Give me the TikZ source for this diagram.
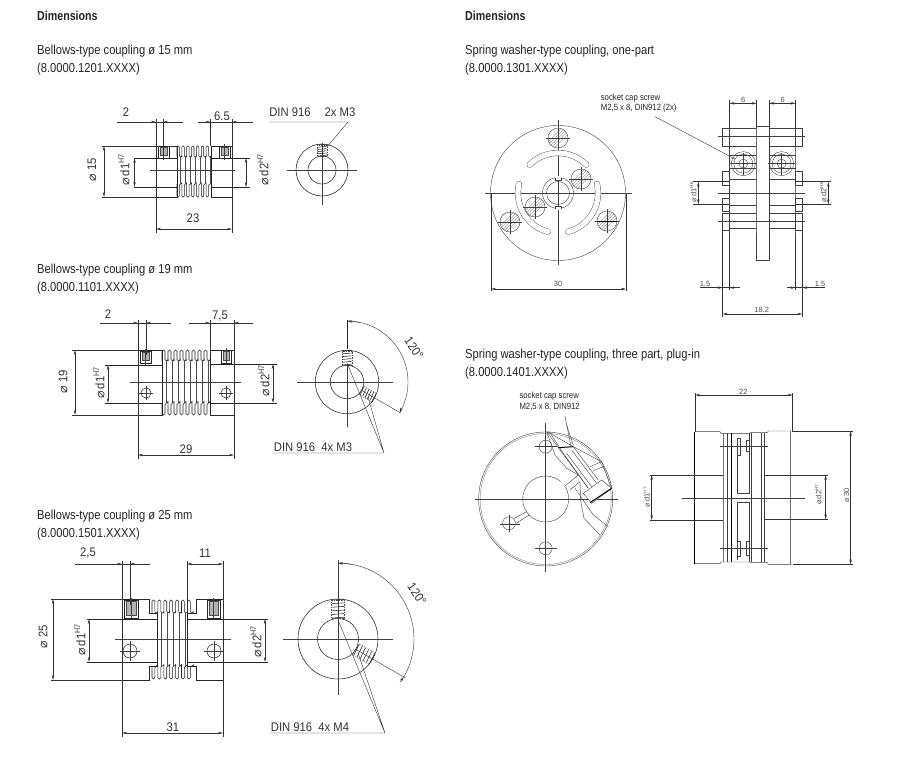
\documentclass[tikz,border=0pt]{standalone}
\usepackage{fontspec}
\setmainfont{Liberation Sans}
\newfontfamily\headf[FakeStretch=0.86]{Liberation Sans}
\newfontfamily\headbf[FakeStretch=0.82]{Liberation Sans}
\newfontfamily\dimf[FakeStretch=0.9]{Liberation Sans}
\newfontfamily\symf{DejaVu Sans}
\usetikzlibrary{arrows.meta,calc}
\tikzset{
  part/.style={line width=.55pt,draw=black!85},
  thin part/.style={line width=.35pt,draw=black!70},
  thick part/.style={line width=1pt,draw=black},
  gray thick/.style={line width=1pt,draw=black!55},
  axisline/.style={line width=.35pt,draw=black!75},
  dimline/.style={line width=.4pt,draw=black!80},
  dimarr/.style={dimline,-{Stealth[length=5pt,width=2.4pt]}},
  dimboth/.style={dimline,{Stealth[length=5pt,width=2.4pt]}-{Stealth[length=5pt,width=2.4pt]}},
  heading/.style={anchor=base west,inner sep=0pt,font=\headf\fontsize{13}{14}\selectfont,text=black!85},
  headingb/.style={anchor=base west,inner sep=0pt,font=\headbf\bfseries\fontsize{13}{14}\selectfont,text=black!85},
  dimtext/.style={inner sep=0pt,font=\dimf\fontsize{12.5}{14}\selectfont,text=black!80},
  smalldim/.style={inner sep=0pt,font=\fontsize{7.5}{9}\selectfont,text=black!70},
  note/.style={anchor=base west,inner sep=0pt,font=\headf\fontsize{9}{10}\selectfont,text=black!85},
  light/.style={part/.append style={line width=.4pt,draw=black!75},thin part/.append style={line width=.3pt,draw=black!60}},
}
\newcommand\dm{{\symf ⌀}}
\newcommand\dd[2]{\dm\,#1\raisebox{.42em}{\fontsize{8}{9}\selectfont #2}}
\newcommand\ddsm[2]{\dm\,#1\raisebox{.42em}{\fontsize{4.5}{5}\selectfont #2}}
% arc in screen-angle terms: style cx cy R from to
\newcommand\parc[6]{\draw[#1] plot[domain=#5:#6,samples=40] ({#2+#4*cos(\x)},{#3-#4*sin(\x)});}
% one bellows row: x0 pitch n yOuter yInner corner
\newcommand\foldrow[6]{%
  \foreach \i in {1,...,#3}{%
    \pgfmathsetmacro\xa{#1+(\i-1)*#2}\pgfmathsetmacro\xb{\xa+#2/2}\pgfmathsetmacro\xc{\xa+#2}%
    \draw[part,rounded corners=#6] (\xa,#5) -- (\xa,#4) -- (\xb,#4) -- (\xb,#5) -- (\xc,#5) -- (\xc,#5-.01);
  }}
% web lines between the rows: x0 pitch n y1 y2
\newcommand\foldweb[5]{%
  \foreach \i in {1,...,#3}{%
    \pgfmathsetmacro\xa{#1+(\i-.25)*#2}%
    \draw[thin part] (\xa,#4) -- (\xa,#5);
  }}
% set screw seen from the side: x1 x2 y1 y2
\newcommand\sidescrew[4]{%
  \pgfmathsetmacro\xm{(#1+#2)/2}%
  \draw[part,fill=white] (#1,#3) rectangle (#2,#4);
  \draw[thin part,fill=black!30] (#1+2,#3+1.5) rectangle (#2-2,#4-3);
  \draw[axisline] (\xm,#3-2) -- (\xm,#4+2);}
% set screw in end view, radial, drawn upward from centre: half-width r1 r2
\newcommand\radscrew[3]{%
  \draw[thin part,dash pattern=on 1.5pt off 1pt] (-#1,-#2) rectangle (#1,-#3);
  \foreach \f in {0,.2,.4,.6,.8,1}{\draw[part] (-#1+.5,{-#2-(#3-#2)*\f}) -- (#1-.5,{-#2-(#3-#2)*\f-.8});}}
% hatched screw in the disc: cx cy r
\newcommand\hatchscrew[3]{%
  \draw[part] (#1,#2) circle[radius=#3pt];
  \begin{scope}
    \clip (#1,#2) circle[radius=#3pt];
    \foreach \f in {-6,-3,0,3,6}{\draw[thin part] (#1+\f-14,#2+14) -- (#1+\f+14,#2-14);}
  \end{scope}
  \draw[axisline] (#1-#3-2,#2) -- (#1+#3+2,#2) (#1,#2-#3-2) -- (#1,#2+#3+2);}
\begin{document}
\begin{tikzpicture}[x=1pt,y=-1pt]
\useasboundingbox (0,0) rectangle (913,761);
\fill[white] (0,0) rectangle (913,761);

% ---------- headings ----------
\node[headingb] (h1) at (37,20) {Dimensions};
\node[heading] (t1a) at (37,54) {Bellows-type coupling ø 15 mm};
\node[heading] (t1b) at (37,72) {(8.0000.1201.XXXX)};
\node[heading] (t2a) at (37,273) {Bellows-type coupling ø 19 mm};
\node[heading] (t2b) at (37,291) {(8.0000.1101.XXXX)};
\node[heading] (t3a) at (37,519) {Bellows-type coupling ø 25 mm};
\node[heading] (t3b) at (37,537) {(8.0000.1501.XXXX)};
\node[headingb] (h2) at (465,20) {Dimensions};
\node[heading] (t4a) at (465,54) {Spring washer-type coupling, one-part};
\node[heading] (t4b) at (465,72) {(8.0000.1301.XXXX)};
\node[heading] (t5a) at (465,358) {Spring washer-type coupling, three part, plug-in};
\node[heading] (t5b) at (465,376) {(8.0000.1401.XXXX)};

% ---------- coupling 15 ----------
\draw[part] (177,146) -- (156,146) -- (156,197) -- (177,197) -- cycle;
\draw[part] (211,146) -- (232,146) -- (232,197) -- (211,197) -- cycle;
\foldrow{177}{4.86}{7}{146}{157}{1.1pt}
\foldrow{177}{4.86}{7}{197}{184}{1.1pt}
\foldweb{177}{4.86}{7}{157}{184}
\sidescrew{158}{169}{146}{158}
\sidescrew{219}{230}{146}{158}
\draw[axisline] (150,170.5) -- (235,170.5);
\draw[part] (134,158) -- (177,158) (134,187) -- (177,187);
\draw[part] (211,158) -- (250,158) (211,187) -- (250,187);
\draw[dimline] (102,146) -- (156,146) (102,197) -- (156,197);
\draw[dimboth] (104,146) -- (104,197);
\node[dimtext,rotate=90] (l15) at (92,170) {\dm\ 15};
\draw[dimboth] (134.5,158) -- (134.5,187);
\node[dimtext,rotate=90] (ld1a) at (124,170) {\dd{d1}{H7}};
\draw[dimboth] (246,158) -- (246,187);
\node[dimtext,rotate=90] (ld2a) at (263,170) {\dd{d2}{H7}};
\draw[dimline] (156,119) -- (156,233) (163,119) -- (163,160) (210.5,119) -- (210.5,146) (232,119) -- (232,233);
\draw[dimline] (117,122) -- (183,122) (198,122) -- (253,122);
\draw[dimarr] (117,122) -- (156,122);
\draw[dimarr] (183,122) -- (163,122);
\draw[dimarr] (198,122) -- (210.5,122);
\draw[dimarr] (253,122) -- (232,122);
\node[dimtext] (l2a) at (126,112) {2};
\node[dimtext] (l65) at (222,116) {6.5};
\draw[dimboth] (156,229) -- (232,229);
\node[dimtext] (l23) at (193,218) {23};
\draw[part] (322,170) circle[radius=26pt];
\draw[part] (322,170) circle[radius=14pt];
\draw[axisline] (287,170) -- (357,170) (322,143) -- (322,205);
\begin{scope}[shift={(322,170)}]\radscrew{5}{14}{25}\end{scope}
\draw[dimline] (269,122) -- (348,122) -- (327,147);
\node[dimtext] (din1) at (290,112) {DIN 916};
\node[dimtext] (din1b) at (340,112) {2x M3};

% ---------- coupling 19 ----------
\draw[part] (162,350) -- (138,350) -- (138,415) -- (162,415) -- cycle;
\draw[part] (210,350) -- (234,350) -- (234,415) -- (210,415) -- cycle;
\foldrow{162}{6}{8}{350}{361}{1.4pt}
\foldrow{162}{6}{8}{415}{403}{1.4pt}
\foldweb{162}{6}{8}{361}{403}
\sidescrew{140}{151}{351}{363}
\sidescrew{221}{231}{350}{363}
\draw[axisline] (130,382) -- (241,382);
\draw[part] (105,365) -- (162,365) (105,403) -- (162,403);
\draw[part] (210,364) -- (277,364) (210,403) -- (277,403);
\draw[part] (146,393) circle[radius=5pt] (226,393) circle[radius=5pt];
\draw[axisline] (139,393) -- (153,393) (146,386) -- (146,400) (219,393) -- (233,393) (226,386) -- (226,400);
\draw[dimline] (72,350) -- (138,350) (72,415) -- (138,415);
\draw[dimboth] (75,350) -- (75,415);
\node[dimtext,rotate=90] (l19) at (63,382) {\dm\ 19};
\draw[dimboth] (108,365) -- (108,403);
\node[dimtext,rotate=90] (ld1b) at (99,383) {\dd{d1}{H7}};
\draw[dimboth] (273,364) -- (273,403);
\node[dimtext,rotate=90] (ld2b) at (264,381) {\dd{d2}{H7}};
\draw[dimline] (138,320) -- (138,459) (146,320) -- (146,355) (210,320) -- (210,350) (234,320) -- (234,459);
\draw[dimline] (100,323) -- (171,323) (189,323) -- (253,323);
\draw[dimarr] (100,323) -- (138,323);
\draw[dimarr] (171,323) -- (146,323);
\draw[dimarr] (189,323) -- (210,323);
\draw[dimarr] (253,323) -- (234,323);
\node[dimtext] (l2b) at (108,314) {2};
\node[dimtext] (l75) at (220,316) {7,5};
\draw[dimboth] (138,455) -- (234,455);
\node[dimtext] (l29) at (186,449) {29};
\draw[part] (347,382) circle[radius=31.7pt];
\draw[part] (347,382) circle[radius=16.7pt];
\draw[axisline] (297,382) -- (393,382) (347,365) -- (347,427);
\begin{scope}[shift={(347,382)}]\radscrew{5}{17}{31}\end{scope}
\begin{scope}[shift={(347,382)},rotate=-120]\radscrew{5}{17}{31}\end{scope}
\draw[part] (347,349) -- (347,320);
\draw[dimline] ({347+.866*17},{382+.5*17}) -- ({347+.866*62},{382+.5*62});
\parc{dimline}{347}{382}{61}{-30}{90}
\draw[dimarr] (400,412) -- ({347+.866*61},{382+.5*61});
\draw[dimarr] (360,322.4) -- (347.3,321);
\node[dimtext,rotate=-55] (l120a) at (414,348) {120°};
\draw[dimline] (273,453) -- (384,453) -- (347,363) (384,453) -- (368,397);
\node[dimtext] (din2) at (313,447) {DIN 916\ \ 4x M3};

% ---------- coupling 25 ----------
\draw[part] (122,599) -- (149,599) -- (149,613) -- (157,613) -- (157,666) -- (149,666) -- (149,680) -- (122,680) -- cycle;
\draw[part] (223,599) -- (196,599) -- (196,613) -- (187,613) -- (187,666) -- (196,666) -- (196,680) -- (223,680) -- cycle;
\foldrow{152}{5.9}{7}{600}{613}{1.4pt}
\foldrow{152}{5.9}{7}{679}{666}{1.4pt}
\foldweb{157}{5.9}{5}{613}{666}
\sidescrew{124}{138}{600}{618}
\sidescrew{207}{220}{600}{618}
\draw[axisline] (115,639) -- (231,639);
\draw[part] (87,619) -- (157,619) (87,662) -- (157,662);
\draw[part] (187,619) -- (268,619) (187,662) -- (268,662);
\draw[part] (130,651) circle[radius=7pt] (214,651) circle[radius=7pt];
\draw[axisline] (120,651) -- (140,651) (130,641) -- (130,661) (204,651) -- (224,651) (214,641) -- (214,661);
\draw[dimline] (51,599) -- (122,599) (51,680) -- (122,680);
\draw[dimboth] (53,599) -- (53,680);
\node[dimtext,rotate=90] (l25) at (43,637) {\dm\ 25};
\draw[dimboth] (89,619) -- (89,662);
\node[dimtext,rotate=90] (ld1c) at (80,640) {\dd{d1}{H7}};
\draw[dimboth] (265,619) -- (265,662);
\node[dimtext,rotate=90] (ld2c) at (256,642) {\dd{d2}{H7}};
\draw[dimline] (122,561) -- (122,737) (130,561) -- (130,605) (187,561) -- (187,613) (223,561) -- (223,737);
\draw[dimline] (75,564) -- (150,564);
\draw[dimarr] (75,564) -- (122,564);
\draw[dimarr] (150,564) -- (130,564);
\draw[dimboth] (187,564) -- (223,564);
\node[dimtext] (l25b) at (88,553) {2,5};
\node[dimtext] (l11) at (205,553) {11};
\draw[dimboth] (122,733) -- (223,733);
\node[dimtext] (l31) at (173,727) {31};
\draw[part] (338,639) circle[radius=40pt];
\draw[part] (338,639) circle[radius=20.5pt];
\draw[axisline] (283,639) -- (393,639) (338,560) -- (338,695);
\begin{scope}[shift={(338,639)}]\radscrew{6.5}{21}{39}\end{scope}
\begin{scope}[shift={(338,639)},rotate=-120]\radscrew{6.5}{21}{39}\end{scope}
\draw[dimline] ({338+.866*21},{639+.5*21}) -- ({338+.866*78},{639+.5*78});
\parc{dimline}{338}{639}{76}{-30}{90}
\draw[dimarr] (352,564.3) -- (338.3,563);
\draw[dimarr] (400,682) -- ({338+.866*76},{639+.5*76});
\node[dimtext,rotate=-55] (l120b) at (417,594) {120°};
\draw[dimline] (270,733) -- (385,733) -- (338,620) (385,733) -- (358,653);
\node[dimtext] (din3) at (310,727) {DIN 916\ \ 4x M4};

% ---------- spring washer, one-part : front ----------
\begin{scope}[light]
\draw[part] (558,193) circle[radius=67.5pt];
\draw[axisline] (485,193) -- (632,193) (558,120) -- (558,265);
\draw[part] (558,193) circle[radius=15.5pt];
\draw[part] (558,193) circle[radius=11.5pt];
\fill[white] (555,176) rectangle (561,180) (555,206) rectangle (561,210);
\draw[part] (555,177.5) -- (555,180) -- (561,180) -- (561,177.5) (555,208.5) -- (555,206) -- (561,206) -- (561,208.5);
\foreach \a/\b in {45/135,167/255,285/373}{
  \parc{line width=6pt,draw=black!75,line cap=round}{558}{193}{40}{\a}{\b}
  \parc{line width=5.2pt,draw=white,line cap=round}{558}{193}{40}{\a}{\b}
}
\hatchscrew{558}{138}{10}
\hatchscrew{581}{179}{10}
\hatchscrew{535}{207}{10}
\hatchscrew{510}{222}{10}
\hatchscrew{607}{221}{10}
\draw[thick part] (597,221) -- (617,221);
\draw[dimline] (491,193) -- (491,291) (626,193) -- (626,291);
\draw[dimboth] (491,289) -- (626,289);
\node[smalldim] (l30) at (558,284) {30};
\end{scope}

% ---------- spring washer, one-part : side (reference zoom coordinates) ----------
\begin{scope}[shift={(480,85)},x=.3333pt,y=-.3333pt,light]
  \draw[part] (828,125) rectangle (867,525);
  \draw[gray thick] (830,130) -- (830,445) (947,130) -- (947,445);
  \draw[part] (748,130) -- (748,470) (947,445) -- (947,470);
  \draw[part] (728,130) rectangle (748,185) (728,258) rectangle (748,300) (728,340) rectangle (748,380) (728,385) rectangle (748,435);
  \draw[part] (947,130) rectangle (967,185) (947,258) rectangle (967,300) (947,340) rectangle (967,380) (947,385) rectangle (967,435);
  \draw[part] (748,130) -- (828,130) (867,130) -- (947,130);
  \draw[part] (748,183) -- (828,183) (867,183) -- (947,183);
  \draw[part] (748,283) -- (828,283) (867,283) -- (947,283);
  \draw[part] (748,360) -- (828,360) (867,360) -- (947,360);
  \draw[part] (748,385) -- (828,385) (867,385) -- (947,385);
  \draw[part] (748,430) -- (828,430) (867,430) -- (947,430);
  \draw[part] (748,210) -- (828,210) (867,210) -- (947,210);
  \draw[part] (748,250) -- (828,250) (867,250) -- (947,250);
  \draw[axisline] (715,155) -- (975,155) (715,325) -- (975,325) (715,408) -- (975,408);
  \draw[part] (790,236) circle[radius=12pt] (905,236) circle[radius=12pt];
  \draw[part] (790,236) circle[radius=9.5pt] (905,236) circle[radius=9.5pt];
  \draw[part] (790,236) circle[radius=4.5pt] (905,236) circle[radius=4.5pt];
  \draw[axisline] (750,236) -- (830,236) (790,205) -- (790,270) (865,236) -- (945,236) (905,205) -- (905,270);
  \draw[dimline] (640,290) -- (748,290) (640,358) -- (748,358) (947,290) -- (1052,290) (947,358) -- (1052,358);
  \draw[dimboth] (655,290) -- (655,358);
  \draw[dimboth] (1045,290) -- (1045,358);
  \node[smalldim,rotate=90] (sd1) at (640,322) {\ddsm{d1}{H6}};
  \node[smalldim,rotate=90] (sd2) at (1030,322) {\ddsm{d2}{H6}};
  \draw[dimline] (748,45) -- (748,130) (830,45) -- (830,125) (867,45) -- (867,125) (947,45) -- (947,130);
  \draw[dimboth] (748,55) -- (830,55);
  \draw[dimboth] (867,55) -- (947,55);
  \node[smalldim] (l6a) at (790,44) {6};
  \node[smalldim] (l6b) at (908,44) {6};
  \draw[dimline] (728,435) -- (728,695) (748,470) -- (748,615) (947,470) -- (947,615) (967,435) -- (967,695);
  \draw[dimline] (660,608) -- (780,608) (920,608) -- (1035,608);
  \draw[dimarr] (700,608) -- (728,608);
  \draw[dimarr] (780,608) -- (748,608);
  \draw[dimarr] (920,608) -- (947,608);
  \draw[dimarr] (995,608) -- (967,608);
  \node[smalldim] (l15a) at (675,597) {1.5};
  \node[smalldim] (l15b) at (1020,597) {1.5};
  \draw[dimboth] (728,687) -- (967,687);
  \node[smalldim] (l182) at (845,675) {18.2};
  \coordinate (lead1) at (525,95);
  \coordinate (lead2) at (765,222);
  \draw[dimline] (lead1) -- (lead2);
  \node[note] (n1) at (362,45) {socket cap screw};
  \node[note] (n2) at (362,76) {M2,5 x 8, DIN912 (2x)};
\end{scope}

% ---------- spring washer, three part : front (zoom coordinates) ----------
\begin{scope}[shift={(460,380)},x=.3333pt,y=-.3333pt,light]
  \draw[part] (257,357) circle[radius=67pt];
  \draw[thin part] (257,357) circle[radius=65.5pt];
  \draw[axisline] (45,357) -- (475,357) (257,130) -- (257,575);
  \draw[part] (257,357) circle[radius=23pt];
  \fill[white] (318,262) -- (355,285) -- (330,330) -- (300,310) -- cycle;
  \draw[part] (257,200) circle[radius=6.5pt] (257,505) circle[radius=6.5pt] (147,430) circle[radius=6.5pt];
  \draw[axisline] (225,200) -- (290,200) (225,505) -- (290,505) (120,432) -- (180,432) (147,405) -- (147,455);
  \draw[part] (162,415) -- (200,395) (168,430) -- (208,405);
  % left contour of the cut-out
  \draw[part] (260,155) -- (285,225) -- (320,265) -- (355,285) -- (315,318);
  \draw[part] (330,330) -- (360,305) -- (362,362) -- (372,415) -- (420,465);
  % screw body
  \draw[part] (260,155) -- (385,325);
  \draw[part] (268,155) -- (310,220) -- (385,325);
  \draw[part] (262,155) -- (340,200) -- (415,300);
  \draw[part] (320,220) -- (395,320) (335,210) -- (410,310);
  \draw[part] (340,195) -- (320,135);
  % screw head
  \draw[part,fill=white] (370,340) -- (425,300) -- (455,325) -- (395,370) -- cycle;
  \draw[thick part] (390,368) -- (455,325) (295,203) -- (340,200);
  % upper right pieces
  \draw[part] (390,260) -- (425,245) -- (455,325) (400,272) -- (430,260);
  \draw[part] (340,200) -- (425,245);
  \draw[part] (345,325) -- (400,405) -- (445,440);
  \coordinate (lead3) at (315,108);
  \coordinate (lead4) at (332,195);
  \draw[dimline] (lead3) -- (lead4);
  \node[note] (n3) at (178,55) {socket cap screw};
  \node[note] (n4) at (178,88) {M2,5 x 8, DIN912};
\end{scope}

% ---------- spring washer, three part : side (zoom coordinates) ----------
\begin{scope}[shift={(460,380)},x=.3333pt,y=-.3333pt,light]
  \draw[part] (705,155) -- (780,155) -- (783,160) -- (870,160);
  \draw[part] (995,153) -- (925,153) -- (922,158) -- (870,158);
  \draw[part] (705,551) -- (780,551) -- (783,546) -- (870,546);
  \draw[part] (995,553) -- (925,553) -- (922,548) -- (870,548);
  \draw[thick part] (705,155) -- (705,551) (815,160) -- (815,546);
  \draw[gray thick] (993,153) -- (993,553) (790,160) -- (790,546);
  \draw[part] (803,160) -- (803,546) (875,160) -- (875,546) (905,160) -- (905,546) (912,160) -- (912,546);
  \draw[part] (832,175) -- (832,340) -- (868,340) -- (868,160) (832,540) -- (832,367) -- (868,367) -- (868,546);
  \draw[part] (832,175) rectangle (840,225) (860,180) rectangle (868,215) (832,485) rectangle (840,530) (860,485) rectangle (868,525);
  \draw[axisline] (780,198) -- (925,198) (780,505) -- (925,505) (665,355) -- (1035,355);
  \draw[dimline] (570,285) -- (790,285) (570,420) -- (790,420) (915,285) -- (1105,285) (915,418) -- (1105,418);
  \draw[dimboth] (575,285) -- (575,420);
  \draw[dimboth] (1097,285) -- (1097,418);
  \node[smalldim,rotate=90] (td1) at (560,352) {\ddsm{d1}{H7}};
  \node[smalldim,rotate=90] (td2) at (1075,345) {\ddsm{d2}{H7}};
  \draw[dimline] (705,40) -- (705,155) (998,40) -- (998,155);
  \draw[dimboth] (705,45) -- (998,45);
  \node[smalldim] (l22) at (850,35) {22};
  \draw[dimline] (998,153) -- (1180,153) (998,553) -- (1180,553);
  \draw[dimboth] (1172,153) -- (1172,553);
  \node[smalldim,rotate=90] (l30b) at (1160,345) {\dm\,30};
\end{scope}
\end{tikzpicture}
\end{document}
